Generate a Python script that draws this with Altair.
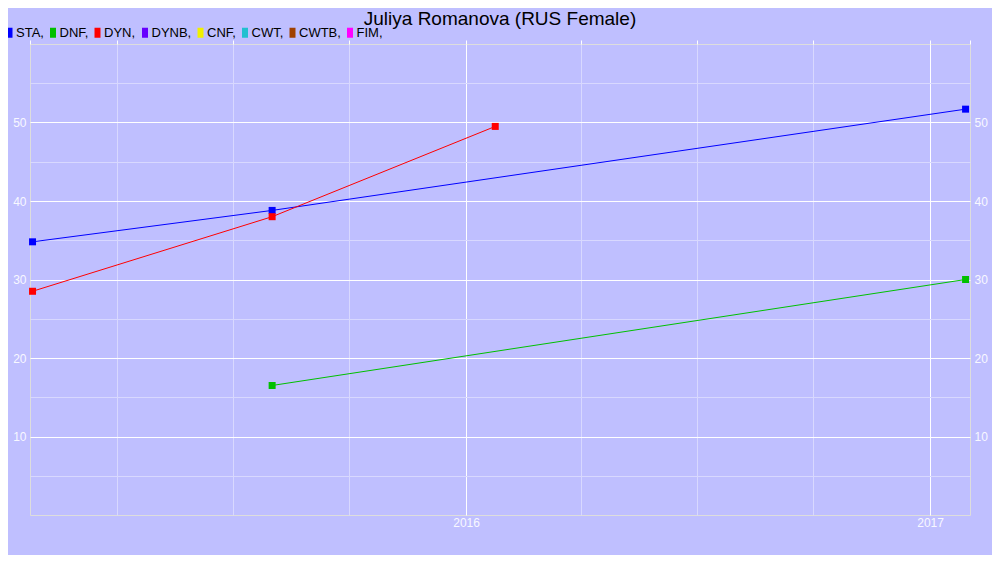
import altair as alt
import pandas as pd

# ---- data ----
title_text = "Juliya Romanova (RUS Female)"
series_names = ["STA", "DNF", "DYN", "DYNB", "CNF", "CWT", "CWTB", "FIM"]
series_colors = ["#0000FF", "#00C000", "#FF0000", "#6600FF", "#F0F000", "#20C0D0", "#A04000", "#FF00FF"]

sta_dates = ["2015-01-24", "2015-08-01", "2017-01-29"]
sta_vals = [34.8, 38.8, 51.7]
dyn_dates = ["2015-01-24", "2015-08-01", "2016-01-24"]
dyn_vals = [28.5, 38.0, 49.5]
dnf_dates = ["2015-08-01", "2017-01-29"]
dnf_vals = [16.5, 30.0]

x_tick_dates = ["2015-04-01", "2015-07-01", "2015-10-01", "2016-01-01", "2016-04-01",
                "2016-07-01", "2016-10-01", "2017-01-01"]
y_tick_vals = [5, 10, 15, 20, 25, 30, 35, 40, 45, 50, 55]

rows = []
for name, ds, vs in [("STA", sta_dates, sta_vals), ("DYN", dyn_dates, dyn_vals), ("DNF", dnf_dates, dnf_vals)]:
    for d, v in zip(ds, vs):
        rows.append({"series": name, "date": d + "T00:00:00", "value": v})
df = pd.DataFrame(rows)


def dt(s):
    y, m, d = [int(p) for p in s.split("-")]
    return alt.DateTime(year=y, month=m, date=d)


x_domain = [alt.DateTime(year=2015, month=1, date=22),
            alt.DateTime(year=2017, month=2, date=1, hours=12)]
x_scale = alt.Scale(domain=x_domain, nice=False)
y_scale = alt.Scale(domain=[0, 60], nice=False, zero=False)

FONT = "Liberation Sans"
label_color = "#F8F8FF"
minor_grid = "#D8D8FF"

x_bottom = alt.Axis(
    orient="bottom", values=[dt(s) for s in x_tick_dates], grid=True,
    gridColor={"condition": {"test": "month(datum.value) == 0", "value": "#FFFFFF"}, "value": minor_grid},
    gridWidth=1, ticks=False, domain=False, title=None,
    labelExpr="month(datum.value) == 0 ? timeFormat(datum.value, '%Y') : ''",
    labelColor=label_color, labelFont=FONT, labelFontSize=12, labelPadding=2,
    labelFlush=False, labelOverlap=False,
)
x_top = alt.Axis(
    orient="top", values=[dt(s) for s in x_tick_dates] + x_domain, grid=False,
    ticks=True, tickSize=4, tickColor="#FFFFFF",
    domain=False, labels=False, title=None,
)
y_left = alt.Axis(
    orient="left", values=y_tick_vals, grid=True,
    gridColor={"condition": {"test": "datum.value % 10 == 0", "value": "#FFFFFF"}, "value": minor_grid},
    ticks=False, domain=False, title=None,
    labelExpr="datum.value % 10 == 0 ? datum.label : ''",
    labelColor=label_color, labelFont=FONT, labelFontSize=12, labelPadding=4,
)
y_right = alt.Axis(
    orient="right", values=y_tick_vals, grid=False,
    ticks=False, domain=False, title=None,
    labelExpr="datum.value % 10 == 0 ? datum.label : ''",
    labelColor=label_color, labelFont=FONT, labelFontSize=12, labelPadding=4,
)

color_scale = alt.Scale(domain=series_names, range=series_colors)

base = alt.Chart(df)

lines = base.mark_line(strokeWidth=1).encode(
    x=alt.X("date:T", scale=x_scale, axis=x_bottom),
    y=alt.Y("value:Q", scale=y_scale, axis=y_left),
    color=alt.Color("series:N", scale=color_scale, legend=None),
    detail="series:N",
)

points = base.mark_point(shape="square", filled=True, size=49, opacity=1).encode(
    x=alt.X("date:T", scale=x_scale, axis=x_top),
    y=alt.Y("value:Q", scale=y_scale, axis=y_right),
    color=alt.Color(
        "series:N", scale=color_scale,
        legend=alt.Legend(
            orient="none", legendX=-27, legendY=-18, direction="horizontal", title=None,
            symbolType="M-0.6,-1H0.6V1H-0.6Z", symbolSize=100, symbolStrokeWidth=0,
            symbolOpacity=1, labelFontSize=13, labelColor="#000000", labelFont=FONT,
            labelOffset=0, columnPadding=2.5, padding=0, labelLimit=200,
            labelExpr="datum.label + ','",
        ),
    ),
)

title = alt.Chart(pd.DataFrame({"t": [title_text]})).mark_text(
    fontSize=19, font=FONT, color="#000000", align="center", baseline="alphabetic"
).encode(text="t:N", x=alt.value(470), y=alt.value(-19))

chart = alt.layer(lines, points, title).resolve_scale(
    x="shared", y="shared", color="shared"
).resolve_axis(x="independent", y="independent").resolve_legend(
    color="independent"
).properties(
    width=940, height=471,
    autosize=alt.AutoSizeParams(type="none"),
    padding={"left": 22, "top": 36, "right": 22, "bottom": 40},
    background="#BFBFFF",
).configure_view(
    fill="#BFBFFF", stroke="#FFFFFF", strokeWidth=1
).configure(font=FONT)

chart.save("out.html", embed_options={"renderer": "svg", "actions": False})
